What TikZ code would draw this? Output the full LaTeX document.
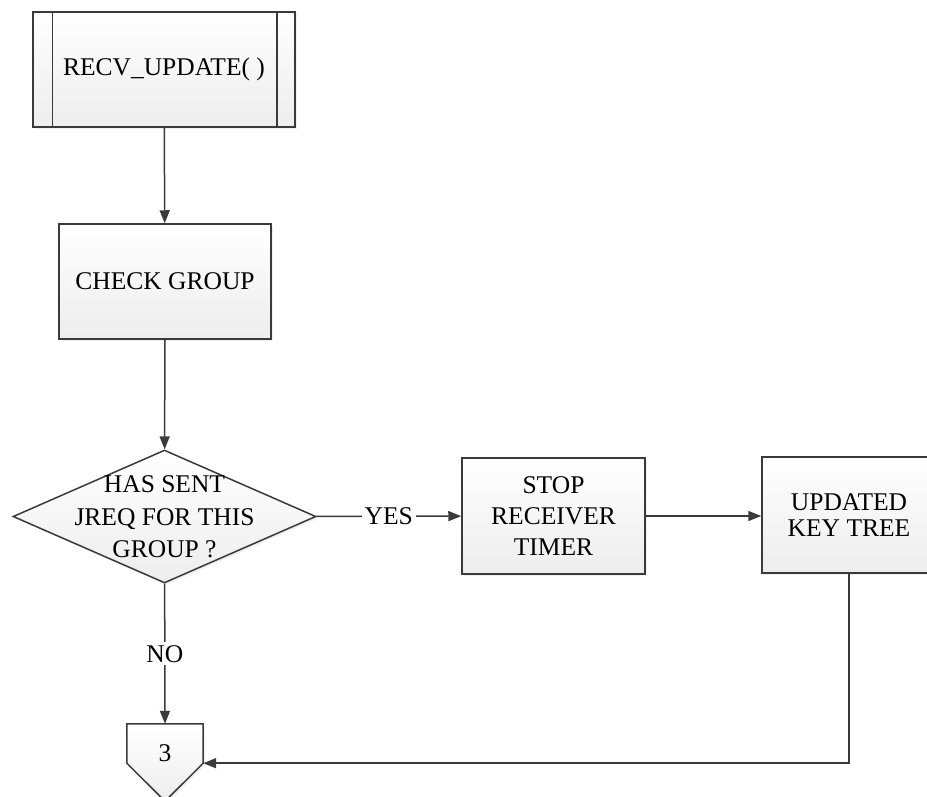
\documentclass[tikz,border=0pt]{standalone}
\usepackage{fontspec}
\setmainfont{Liberation Serif}
\usetikzlibrary{arrows.meta,shapes.geometric,shadows,calc}

\definecolor{edge}{HTML}{3A3A3A}
\definecolor{boxbot}{HTML}{EDEDED}
\newcommand\flowfont{\fontsize{25.5}{31}\selectfont}

\tikzset{
  shade box/.style={top color=white, bottom color=boxbot,
    drop shadow={shadow xshift=2pt, shadow yshift=-2pt, opacity=0.12}},
  procbox/.style={draw=edge, line width=1.5pt, shade box, inner sep=0pt,
    align=center, font=\flowfont},
  decbox/.style={diamond, draw=edge, line width=1.5pt, shade box, inner sep=0pt},
  flowtext/.style={align=center, font=\flowfont, inner sep=0pt},
  arr/.style={draw=edge, line width=1.5pt, -{Triangle[length=13pt,width=10pt]}},
  plain/.style={draw=edge, line width=1.5pt},
  lbl/.style={fill=white, inner sep=3pt, font=\flowfont},
}

\begin{document}
\begin{tikzpicture}[x=1pt, y=-1pt]
  \useasboundingbox (0,0) rectangle (927,796);
  \clip (0,0) rectangle (927,796);

  % subroutine call
  \node[procbox, minimum width=262pt, minimum height=115pt] (top) at (164,69.5) {RECV\_UPDATE( )};
  \draw[plain] ($(top.north west)+(20,0)$) -- ($(top.south west)+(20,0)$);
  \draw[plain] ($(top.north east)+(-19,0)$) -- ($(top.south east)+(-19,0)$);

  % process steps
  \node[procbox, minimum width=212pt, minimum height=115pt] (chk) at (165,281.5) {CHECK GROUP};
  \node[procbox, minimum width=183pt, minimum height=116pt] (stop) at (553.5,516) {STOP\\RECEIVER\\TIMER};
  \node[procbox, minimum width=174pt, minimum height=116pt,
        font=\fontsize{25.5}{26}\selectfont] (upd) at (849,515) {UPDATED\\KEY TREE};

  % decision
  \node[decbox, minimum width=303pt, minimum height=133pt] (dec) at (164.5,516.5) {};
  \node[flowtext, font=\fontsize{25.5}{32.5}\selectfont] (dectxt) at (164.5,517) {HAS SENT\\JREQ FOR THIS\\GROUP ?};

  % off-page connector
  \node[minimum width=76pt, minimum height=39pt, inner sep=0pt] (off) at (165,743.5) {};
  \draw[draw=edge, line width=1.5pt, shade box]
    (off.north west) -- (off.north east) -- (off.south east)
    -- ($(off.south)+(0,38)$) -- (off.south west) -- cycle;
  \node[flowtext] (offnum) at (165,753) {3};

  % connectors
  \draw[arr] (top) -- (chk);
  \draw[arr] (chk) -- (dec);
  \draw[arr] (dec) -- node[lbl] {YES} (stop);
  \draw[arr] (stop.east) -- (stop.east -| upd.west);
  \draw[arr] (dec) -- node[lbl] {NO} (off.north);
  \draw[arr] (upd.south) |- (off.south east);
\end{tikzpicture}
\end{document}
